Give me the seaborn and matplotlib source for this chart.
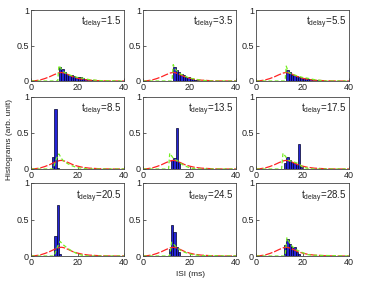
import numpy as np
import pandas as pd
import matplotlib
matplotlib.use("Agg")
import matplotlib.pyplot as plt
import seaborn as sns

sns.set_theme(style="white")
plt.rcParams['font.family'] = ['Liberation Sans', 'DejaVu Sans']

delays = [1.5, 3.5, 5.5, 8.5, 13.5, 17.5, 20.5, 24.5, 28.5]

# histogram bins (ISI in ms, 1 ms bins) and heights per panel
hist_bins = [
    [12, 13, 14, 15, 16, 17, 18, 19, 20, 21, 22, 23, 24, 25, 26, 27],
    [13, 14, 15, 16, 17, 18, 19, 20, 21, 22, 23],
    [13, 14, 15, 16, 17, 18, 19, 20, 21, 22, 23, 24, 25, 26],
    [9, 10, 11],
    [12, 13, 14, 15],
    [12, 13, 14, 15, 16, 17, 18, 19],
    [10, 11, 12],
    [11, 12, 13, 14, 15],
    [12, 13, 14, 15, 16, 17, 18],
]
hist_vals = [
    [0.20, 0.17, 0.13, 0.10, 0.09, 0.08, 0.07, 0.06, 0.05, 0.05, 0.04, 0.03, 0.03, 0.02, 0.02, 0.01],
    [0.20, 0.15, 0.12, 0.10, 0.08, 0.06, 0.05, 0.04, 0.03, 0.02, 0.02],
    [0.16, 0.12, 0.09, 0.08, 0.07, 0.06, 0.05, 0.04, 0.04, 0.03, 0.03, 0.03, 0.02, 0.02],
    [0.17, 0.83, 0.02],
    [0.12, 0.15, 0.57, 0.10],
    [0.08, 0.17, 0.12, 0.10, 0.08, 0.07, 0.35, 0.03],
    [0.28, 0.70, 0.03],
    [0.10, 0.43, 0.33, 0.12, 0.05],
    [0.15, 0.23, 0.17, 0.13, 0.13, 0.06, 0.03],
]

# red reference curve (shared)
red_x = [0, 2, 4, 6, 8, 10, 12, 13, 14, 16, 18, 20, 22, 25, 30, 35, 40]
red_y = [0, 0.005, 0.015, 0.035, 0.06, 0.09, 0.115, 0.12, 0.115, 0.09, 0.06, 0.04, 0.025, 0.012, 0.003, 0, 0]

# green model curves per panel
green_x = [
    [0, 11.5, 12, 13, 14, 16, 18, 20, 22, 25, 30, 40],
    [0, 12.5, 13, 14, 16, 18, 20, 22, 25, 30, 40],
    [0, 12.5, 13, 14, 16, 18, 20, 22, 25, 30, 40],
    [0, 9.5, 10, 11, 12, 13, 14, 16, 18, 20, 22, 25, 40],
    [0, 11, 11.5, 13, 15, 17, 19, 21, 25, 40],
    [0, 11, 11.6, 14, 16, 18, 20, 22, 25, 40],
    [0, 10, 11, 12.5, 14, 16, 18, 20, 22, 25, 40],
    [0, 11.5, 12.3, 14.4, 16, 18, 21, 25, 40],
    [0, 12.5, 13.3, 15, 17, 19.8, 22, 25, 40],
]
green_y = [
    [0, 0, 0.22, 0.17, 0.13, 0.09, 0.07, 0.05, 0.04, 0.02, 0.005, 0],
    [0, 0, 0.23, 0.16, 0.10, 0.07, 0.04, 0.03, 0.01, 0, 0],
    [0, 0, 0.21, 0.12, 0.09, 0.07, 0.05, 0.04, 0.02, 0, 0],
    [0, 0, 0.05, 0.15, 0.21, 0.15, 0.11, 0.07, 0.04, 0.02, 0.01, 0, 0],
    [0, 0, 0.22, 0.15, 0.11, 0.06, 0.03, 0.01, 0, 0],
    [0, 0, 0.22, 0.12, 0.10, 0.08, 0.03, 0.01, 0, 0],
    [0, 0, 0.10, 0.20, 0.15, 0.10, 0.06, 0.03, 0.01, 0, 0],
    [0, 0, 0.19, 0.12, 0.08, 0.05, 0.02, 0.005, 0],
    [0, 0, 0.25, 0.15, 0.09, 0.05, 0.02, 0.01, 0],
]

x_ticks = [0, 20, 40]
y_ticks = [0, 0.5, 1]
y_tick_labels = ['0', '0.5', '1']

W, H = 374, 283
fig = plt.figure(figsize=(W / 100, H / 100), dpi=100)

col_left = [31, 143, 256]
col_w = 93
row_top = [10, 97, 183]
row_h = [71, 72, 73]

spine_col = '#444444'
for i, d in enumerate(delays):
    r, c = divmod(i, 3)
    ax = fig.add_axes([col_left[c] / W, 1 - (row_top[r] + row_h[r]) / H, col_w / W, row_h[r] / H])
    df = pd.DataFrame({'isi': [b + 0.5 for b in hist_bins[i]], 'h': hist_vals[i]})
    sns.histplot(data=df, x='isi', weights='h', binwidth=1, binrange=(0, 40), ax=ax,
                 color='#2424d6', edgecolor='#00002a', linewidth=0.5, alpha=1, legend=False)
    sns.lineplot(x=red_x, y=red_y, ax=ax, color='#ff2424', linewidth=0.9, linestyle=(0, (6, 1.5)))
    sns.lineplot(x=green_x[i], y=green_y[i], ax=ax, color='#77ee22', linewidth=0.9, linestyle=(0, (3, 2)))
    ax.set_xlim(0, 40)
    ax.set_ylim(0, 1)
    ax.set_xticks(x_ticks)
    ax.set_xticklabels([str(t) for t in x_ticks])
    ax.set_yticks(y_ticks)
    ax.set_yticklabels(y_tick_labels)
    ax.set_xlabel('')
    ax.set_ylabel('')
    ax.tick_params(direction='in', length=2, width=0.5, labelsize=6.5, pad=1.5, colors='#222222',
                   bottom=True, left=True)
    for s in ax.spines.values():
        s.set_color(spine_col)
        s.set_linewidth(0.6)
    ax.text(0.97, 0.93, r'$\mathregular{t_{delay}}$=' + f'{d}', transform=ax.transAxes,
            ha='right', va='top', fontsize=7, color='#222222')

fig.text(10 / W, 1 - 140 / H, 'Histograms (arb. unit)', rotation=90, ha='center', va='center',
         fontsize=6, color='#222222')
fig.text(190 / W, 1 - 274 / H, 'ISI (ms)', ha='center', va='center', fontsize=6, color='#222222')

fig.savefig('out.png', dpi=100)
